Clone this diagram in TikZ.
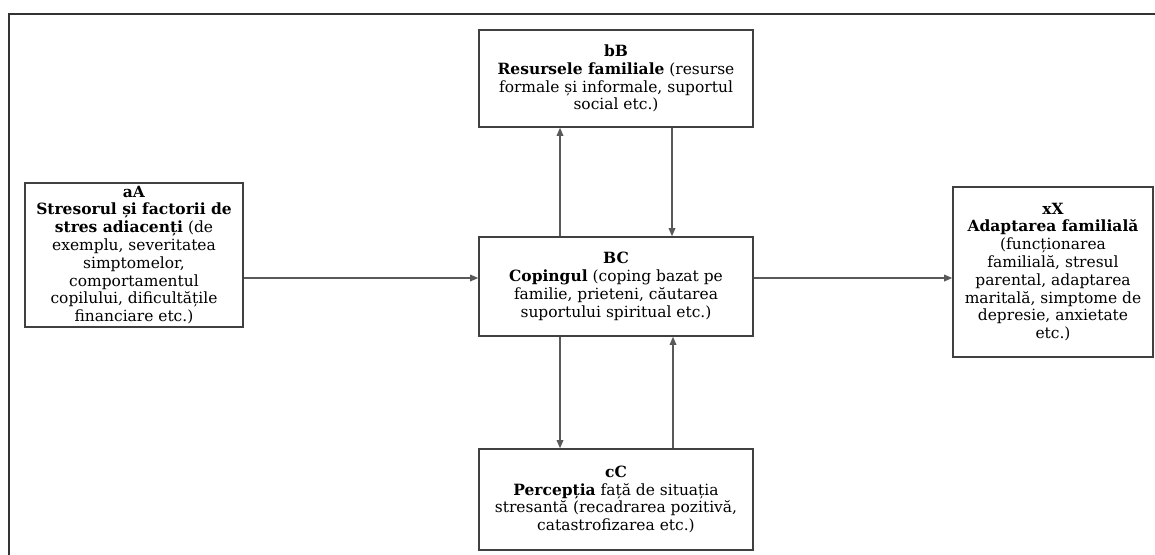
\documentclass[tikz,border=0pt]{standalone}
\usepackage{fontspec}
\setmainfont{DejaVu Serif}
\usetikzlibrary{arrows.meta}

\begin{document}
\begin{tikzpicture}[x=0.75pt,y=-0.75pt,
  box/.style={draw=black!75, line width=1.2pt, align=center, inner sep=1pt,
    font=\fontsize{11.6}{13.35}\selectfont},
  arr/.style={draw=black!65, line width=0.9pt, -{Triangle[length=6pt,width=5pt]}}]
\useasboundingbox (0,0) rectangle (1155,554);
% outer frame
\draw[black!80, line width=1.6pt] (9,570) -- (9,14) -- (1170,14);
% boxes
\node[box, minimum width=163.5pt, minimum height=108pt] (aA) at (134,255)
  {\textbf{aA}\\ \textbf{Stresorul și factorii de}\\ \textbf{stres adiacenți} (de\\
   exemplu, severitatea\\ simptomelor,\\ comportamentul\\ copilului, dificultățile\\
   financiare etc.)};
\node[box, minimum width=205.5pt, minimum height=72.75pt] (bB) at (616,78.5)
  {\textbf{bB}\\ \textbf{Resursele familiale} (resurse\\ formale și informale, suportul\\
   social etc.)};
\node[box, minimum width=205.5pt, minimum height=74.25pt] (BC) at (616,286.5)
  {\textbf{BC}\\ \textbf{Copingul} (coping bazat pe\\ familie, prieteni, căutarea\\
   suportului spiritual etc.)};
\node[box, minimum width=205.5pt, minimum height=75.75pt] (cC) at (616,499.5)
  {\textbf{cC}\\ \textbf{Percepția} față de situația\\ stresantă (recadrarea pozitivă,\\
   catastrofizarea etc.)};
\node[box, minimum width=150pt, minimum height=127.5pt] (xX) at (1053,272)
  {\textbf{xX}\\ \textbf{Adaptarea familială}\\ (funcționarea\\ familială, stresul\\
   parental, adaptarea\\ maritală, simptome de\\ depresie, anxietate\\ etc.)};
% connectors
\draw[arr] (aA.east |- 0,278) -- (BC.west |- 0,278);
\draw[arr] (BC.east |- 0,278) -- (xX.west |- 0,278);
\draw[arr] (BC.north -| 560,0) -- (bB.south -| 560,0);
\draw[arr] (bB.south -| 672,0) -- (BC.north -| 672,0);
\draw[arr] (BC.south -| 560,0) -- (cC.north -| 560,0);
\draw[arr] (cC.north -| 673,0) -- (BC.south -| 673,0);
\end{tikzpicture}
\end{document}
